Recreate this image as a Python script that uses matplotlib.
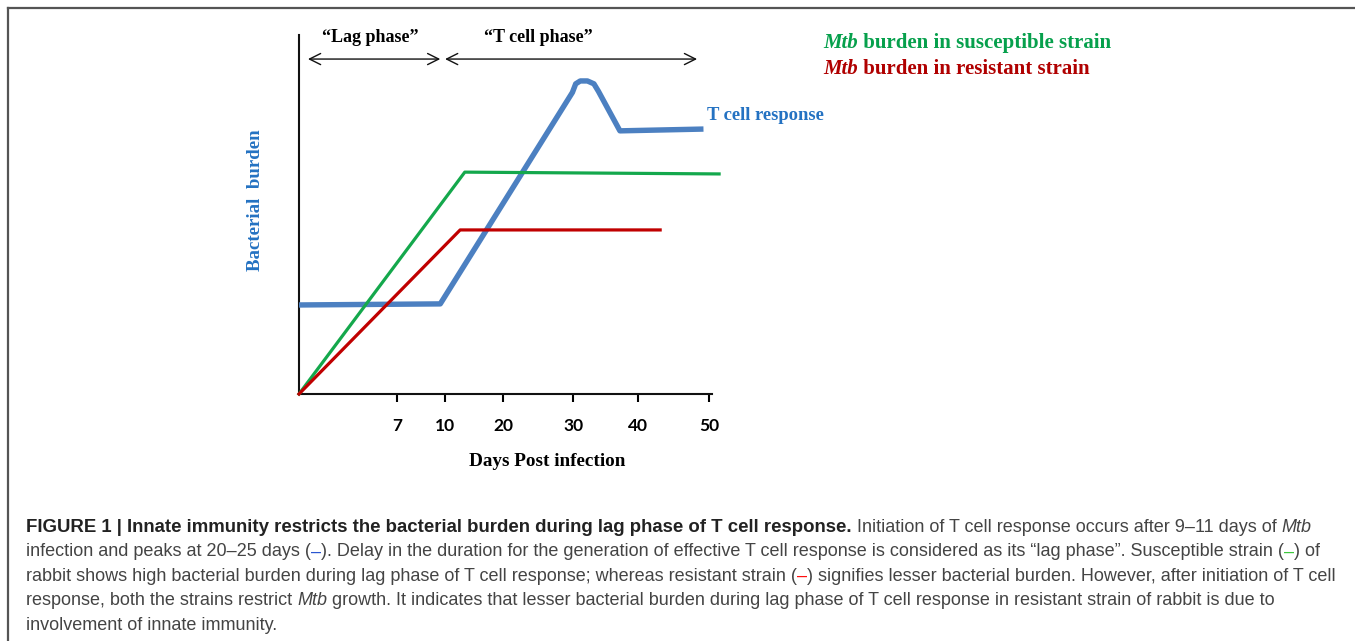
import numpy as np
import matplotlib
matplotlib.use("Agg")
import matplotlib.pyplot as plt
from matplotlib.lines import Line2D

W, H = 1355, 641

# x axis is not linear in the original: day -> axis offset (px)
tick_days = [0, 7, 10, 20, 30, 40, 50, 60]
tick_pos = [0, 98, 146, 204, 274, 339, 410, 481]
tick_labels = ["7", "10", "20", "30", "40", "50"]

# T cell response (blue)
tcell_days = [0, 9.7, 29.9, 30.4, 31.1, 32.2, 33.2, 33.9, 37.2, 49.2]
tcell_vals = [24.8, 25.1, 84.0, 86.4, 87.2, 87.2, 86.4, 84.3, 73.3, 73.8]
# Mtb burden, susceptible strain (green)
susc_days = [0, 13.4, 51.4]
susc_vals = [0, 61.8, 61.3]
# Mtb burden, resistant strain (red)
resi_days = [0, 12.6, 43.1]
resi_vals = [0, 45.7, 45.7]

lag_range = (0.64, 9.7)
tphase_range = (10.0, 48.3)

BLUE = "#4C80C1"
BLUE_TXT = "#2472C2"
GREEN = "#14A84C"
GREEN_TXT = "#06A04C"
RED = "#C00000"
RED_TXT = "#B00000"
SERIF = "Liberation Serif"


def fwd(d):
    return np.interp(d, tick_days, tick_pos)


def inv(p):
    return np.interp(p, tick_pos, tick_days)


def fx(x):
    return x / W


def fy(y):
    return 1 - y / H


fig = plt.figure(figsize=(W / 100, H / 100), dpi=100)
ax = fig.add_axes([fx(299), fy(394), (712 - 299) / W, (394 - 35) / H])
ax.set_xscale("function", functions=(fwd, inv))
ax.set_xlim(0, 50.4)
ax.set_ylim(0, 100)

ax.plot(tcell_days, tcell_vals, color=BLUE, lw=3.9, solid_joinstyle="round",
        solid_capstyle="butt", clip_on=False, zorder=3)
ax.plot(susc_days, susc_vals, color=GREEN, lw=2.3, clip_on=False, zorder=4)
ax.plot(resi_days, resi_vals, color=RED, lw=2.3, clip_on=False, zorder=4)

for s in ["top", "right"]:
    ax.spines[s].set_visible(False)
for s in ["left", "bottom"]:
    ax.spines[s].set_linewidth(1.5)
    ax.spines[s].set_color("#111111")

ax.set_xticks(tick_days[1:7])
ax.set_xticklabels(tick_labels, fontfamily="Lato", fontweight="bold", fontsize=12.5)
ax.tick_params(axis="x", direction="out", length=6, width=1.5, pad=11)
ax.set_yticks([])

ax.set_xlabel("Days Post infection", fontfamily=SERIF, fontweight="bold", fontsize=13.8)
ax.xaxis.set_label_coords((547 - 299) / 413, -(461 - 394) / 359)
ax.xaxis.label.set_va("center")

fig.text(fx(256), fy(200), "Bacterial  burden", rotation=90, ha="center", va="center",
         fontfamily=SERIF, fontweight="bold", fontsize=13.6, color=BLUE_TXT)

# phase labels and arrows
ax.text(5.07, 99.2, "\u201cLag phase\u201d", ha="center", va="center", fontfamily=SERIF,
        fontweight="bold", fontsize=13, clip_on=False)
ax.text(25.0, 99.2, "\u201cT cell phase\u201d", ha="center", va="center", fontfamily=SERIF,
        fontweight="bold", fontsize=13, clip_on=False)
for a, b in [lag_range, tphase_range]:
    ax.annotate("", xy=(b, 93.3), xytext=(a, 93.3),
                arrowprops=dict(arrowstyle="<->,head_length=0.8,head_width=0.4",
                                lw=1.0, color="#111111", shrinkA=0, shrinkB=0),
                annotation_clip=False)

fig.text(fx(707), fy(115), "T cell response", ha="left", va="center", fontfamily=SERIF,
         fontweight="bold", fontsize=13.4, color=BLUE_TXT)

renderer = fig.canvas.get_renderer()


def draw_runs(x, y, runs, base=None, keep=True):
    made = []
    for s, kw in runs:
        opts = dict(base or {})
        opts.update(kw)
        t = fig.text(fx(x), fy(y), s, ha="left", va="baseline", **opts)
        x += t.get_window_extent(renderer).width
        made.append(t)
    if not keep:
        for t in made:
            t.remove()
    return x


leg_base = dict(fontfamily=SERIF, fontweight="bold", fontsize=15)
draw_runs(823, 48, [("Mtb", dict(style="italic", color=GREEN_TXT)),
                    (" burden in susceptible strain", dict(color=GREEN_TXT))], leg_base)
draw_runs(823, 74, [("Mtb", dict(style="italic", color=RED_TXT)),
                    (" burden in resistant strain", dict(color=RED_TXT))], leg_base)

# caption
fig.add_artist(Line2D([fx(8), fx(8)], [fy(8), 0], color="#555555", lw=1.6))
fig.add_artist(Line2D([fx(8), 1], [fy(8), fy(8)], color="#555555", lw=1.6))

B = dict(fontweight="bold", color="#222222")
N = dict()
I = dict(style="italic")
bold_head = "FIGURE 1 | Innate immunity restricts the bacterial burden during lag phase of T cell response."
lines = [
    [(bold_head, B),
     (" Initiation of T cell response occurs after 9\u201311 days of ", N), ("Mtb", I)],
    [("infection and peaks at 20\u201325 days (", N), ("\u2013", dict(color="#2a55d0")),
     ("). Delay in the duration for the generation of effective T cell response is considered as its "
      "\u201clag phase\u201d. Susceptible strain (", N), ("\u2013", dict(color="#3cc83c")), (") of", N)],
    [("rabbit shows high bacterial burden during lag phase of T cell response; whereas resistant strain (", N),
     ("\u2013", dict(color="#ff1010")),
     (") signifies lesser bacterial burden. However, after initiation of T cell", N)],
    [("response, both the strains restrict ", N), ("Mtb", I),
     (" growth. It indicates that lesser bacterial burden during lag phase of T cell response "
      "in resistant strain of rabbit is due to", N)],
    [("involvement of innate immunity.", N)],
]

# size regular and bold caption text to the widths of the original lines
probe = dict(fontfamily="Liberation Sans", fontsize=12, color="#444444")
reg_w = sum(draw_runs(0, -50, ln, probe, keep=False) for ln in lines[1:4])
reg_size = 12 * (1300 + 1307 + 1255) / reg_w
bold_w = draw_runs(0, -50, [(bold_head, B)], probe, keep=False)
bold_size = 12 * 826 / bold_w
B["fontsize"] = bold_size
cap_base = dict(probe, fontsize=reg_size)
for i, runs in enumerate(lines):
    draw_runs(26, 532 + 24.4 * i, runs, cap_base)

fig.savefig("out.png", dpi=100)
